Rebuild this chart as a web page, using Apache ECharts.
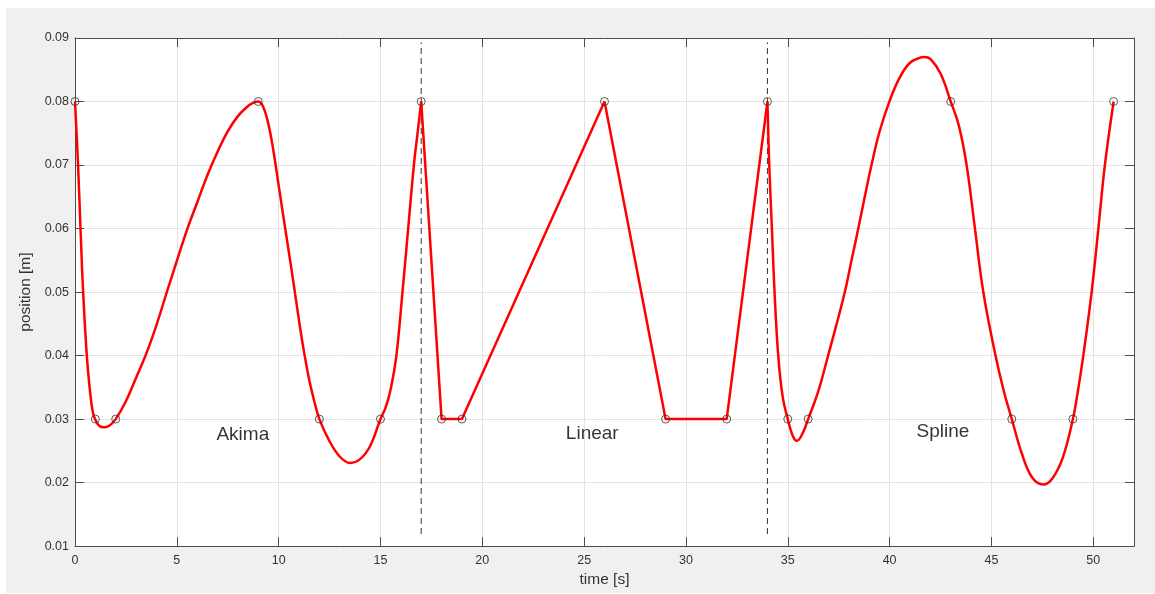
<!DOCTYPE html>
<html>
<head>
<meta charset="utf-8">
<script src="https://cdn.jsdelivr.net/npm/echarts@6/dist/echarts.min.js"></script>
<style>
  html, body { margin: 0; padding: 0; background: #fff; }
  #chart { position: absolute; left: 6px; top: 8px; width: 1149px; height: 585px; }
</style>
</head>
<body>
<div id="chart"></div>
<script>
// waypoints (black circles)
var waypointT = [0, 1, 2, 9, 12, 15, 17, 18, 19, 26, 29, 32, 34, 35, 36, 43, 46, 49, 51];
var waypointV = [0.08, 0.03, 0.03, 0.08, 0.03, 0.03, 0.08, 0.03, 0.03, 0.08, 0.03, 0.03, 0.08, 0.03, 0.03, 0.08, 0.03, 0.03, 0.08];

// red trajectory, [time, position]
var akimaCurve = [
    [0, 0.08], [0.15, 0.07], [0.27, 0.06], [0.4, 0.05], [0.58, 0.04], [0.75, 0.034], [0.88, 0.031],
    [1, 0.0299], [1.2, 0.0289], [1.44, 0.0287], [1.7, 0.029], [2, 0.03], [2.5, 0.0328], [3, 0.0365],
    [3.5, 0.0403], [4, 0.0448], [4.5, 0.0499], [5, 0.0549], [5.5, 0.0598], [6, 0.0641], [6.5, 0.0684],
    [7, 0.0721], [7.5, 0.0753], [8, 0.0777], [8.5, 0.0793], [8.75, 0.0798], [9, 0.08], [9.25, 0.0791],
    [9.5, 0.0764], [9.75, 0.0721], [10, 0.0668], [10.25, 0.0615], [10.5, 0.0563], [10.75, 0.051],
    [11, 0.0455], [11.25, 0.0405], [11.5, 0.0362], [11.75, 0.0328], [12, 0.03], [12.5, 0.0265],
    [13, 0.0241], [13.5, 0.0231], [14, 0.0237], [14.5, 0.0258], [15, 0.03], [15.25, 0.0318],
    [15.5, 0.0347], [15.78, 0.04], [16.08, 0.05], [16.36, 0.06], [16.64, 0.07], [16.82, 0.075], [17, 0.08]
];
var linearCurve = [
    [17, 0.08], [18, 0.03], [19, 0.03], [26, 0.08], [29, 0.03], [32, 0.03], [34, 0.08]
];
var splineCurve = [
    [34, 0.08], [34.09, 0.07], [34.22, 0.06], [34.35, 0.05], [34.53, 0.04], [34.75, 0.0335], [35, 0.03],
    [35.25, 0.0273], [35.45, 0.0266], [35.75, 0.0279], [36, 0.03], [36.5, 0.0344], [36.98, 0.04],
    [37.4, 0.045], [37.8, 0.05], [38.13, 0.055], [38.46, 0.06], [38.78, 0.065], [39.11, 0.07],
    [39.5, 0.0752], [40, 0.0801], [40.5, 0.0838], [41, 0.0861], [41.5, 0.0869], [41.7, 0.087],
    [42, 0.0867], [42.5, 0.0844], [43, 0.08], [43.4, 0.0762], [43.78, 0.07], [44.19, 0.06], [44.6, 0.05],
    [45.2, 0.04], [45.6, 0.0345], [46, 0.03], [46.5, 0.0245], [47, 0.0208], [47.55, 0.0197], [48, 0.0207],
    [48.5, 0.0239], [49, 0.03], [49.25, 0.0345], [49.51, 0.04], [49.92, 0.05], [50.25, 0.06],
    [50.57, 0.07], [51, 0.08]
];

// section dividers and labels
var dividerT = [17, 34];
var dividerRange = [0.0119, 0.0893];
var sectionNames = ['Akima', 'Linear', 'Spline'];
var sectionAt = [[8.24, 0.0275], [25.4, 0.0277], [42.62, 0.028]];

var chart = echarts.init(document.getElementById('chart'), null, {renderer: 'canvas'});

var axisColor = '#4d4d4d';
var labelColor = '#333';
var fontName = '"Liberation Sans", Arial, Helvetica, sans-serif';

var marks = waypointT.map(function (t, i) { return [t, waypointV[i]]; });

var series = [];
dividerT.forEach(function (t) {
    series.push({
        type: 'line',
        data: [[t, dividerRange[0]], [t, dividerRange[1]]],
        showSymbol: false, silent: true,
        lineStyle: {color: '#333', width: 1, type: [6, 4]},
        z: 2
    });
});
// akima and spline parts drawn smooth, linear part straight
[[akimaCurve, 0.4], [linearCurve, false], [splineCurve, 0.4]].forEach(function (c) {
    series.push({
        type: 'line', data: c[0], showSymbol: false, smooth: c[1],
        lineStyle: {color: '#ff0000', width: 2.5}, z: 3
    });
});
series.push({
    type: 'scatter', data: marks, symbol: 'circle', symbolSize: 8,
    itemStyle: {color: 'rgba(0,0,0,0)', borderColor: '#333', borderWidth: 1}, z: 4
});
series.push({
    type: 'scatter', symbolSize: 0,
    data: sectionAt.map(function (p, i) { return [p[0], p[1], sectionNames[i]]; }),
    label: {
        show: true, position: 'inside', color: '#000', fontSize: 19, fontFamily: fontName,
        formatter: function (p) { return p.value[2]; }
    },
    z: 5
});

var option = {
    backgroundColor: '#f0f0f0',
    animation: false,
    grid: {left: 69, top: 30, right: 21, bottom: 44, show: true, backgroundColor: '#fff', borderWidth: 0},
    xAxis: [{
        type: 'value', min: 0, max: 52, interval: 5, position: 'bottom',
        name: 'time [s]', nameLocation: 'middle', nameGap: 25,
        nameTextStyle: {color: labelColor, fontSize: 15.5, fontFamily: fontName},
        axisLine: {show: true, onZero: false, lineStyle: {color: axisColor, width: 1}},
        axisTick: {show: true, inside: true, length: 9, lineStyle: {color: axisColor}},
        axisLabel: {color: labelColor, fontSize: 12.5, fontFamily: fontName, margin: 8, showMaxLabel: false},
        splitLine: {show: true, lineStyle: {color: '#e3e3e3', width: 1}}
    }, {
        type: 'value', min: 0, max: 52, interval: 5, position: 'top',
        axisLine: {show: true, onZero: false, lineStyle: {color: axisColor, width: 1}},
        axisTick: {show: true, inside: true, length: 9, lineStyle: {color: axisColor}},
        axisLabel: {show: false}, splitLine: {show: false}
    }],
    yAxis: [{
        type: 'value', min: 0.01, max: 0.09, interval: 0.01, position: 'left',
        name: 'position [m]', nameLocation: 'middle', nameGap: 25,
        nameTextStyle: {color: labelColor, fontSize: 15.5, fontFamily: fontName},
        axisLine: {show: true, onZero: false, lineStyle: {color: axisColor, width: 1}},
        axisTick: {show: true, inside: true, length: 9, lineStyle: {color: axisColor}},
        axisLabel: {color: labelColor, fontSize: 12.5, fontFamily: fontName, margin: 6,
            formatter: function (v) { return v.toFixed(2); }},
        splitLine: {show: true, lineStyle: {color: '#e3e3e3', width: 1}}
    }, {
        type: 'value', min: 0.01, max: 0.09, interval: 0.01, position: 'right',
        axisLine: {show: true, onZero: false, lineStyle: {color: axisColor, width: 1}},
        axisTick: {show: true, inside: true, length: 9, lineStyle: {color: axisColor}},
        axisLabel: {show: false}, splitLine: {show: false}
    }],
    series: series
};

chart.setOption(option);
</script>
</body>
</html>
